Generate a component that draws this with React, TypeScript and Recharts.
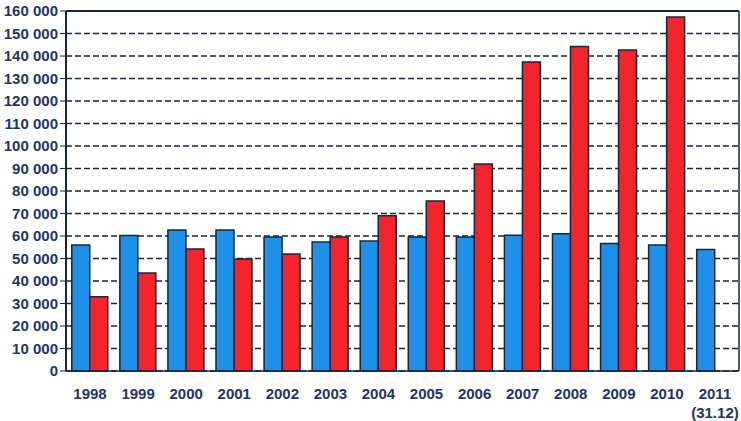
import React from "react";
import { BarChart, Bar, XAxis, YAxis, CartesianGrid, ReferenceLine } from "recharts";

const years = ["1998", "1999", "2000", "2001", "2002", "2003", "2004", "2005", "2006", "2007", "2008", "2009", "2010", "2011"];
const subLabels = ["", "", "", "", "", "", "", "", "", "", "", "", "", "(31.12)"];
const blueValues = [56000, 60200, 62700, 62700, 59600, 57300, 57800, 59600, 59600, 60300, 61000, 56700, 56000, 54000];
const redValues: (number | null)[] = [33000, 43600, 54200, 49800, 52000, 59600, 69000, 75600, 92000, 137300, 144200, 142700, 157300, null];
const yTicks = [0, 10000, 20000, 30000, 40000, 50000, 60000, 70000, 80000, 90000, 100000, 110000, 120000, 130000, 140000, 150000, 160000];

const data = years.map((y, i) => ({ year: y, sub: subLabels[i], blue: blueValues[i], red: redValues[i] }));

const TEXT = "#1f3566";
const FONT = "Liberation Sans, Arial, sans-serif";
const fmt = (v: number) => (v === 0 ? "0" : String(v).replace(/\B(?=(\d{3})+(?!\d))/g, " "));

const XTick = (props: any) => {
  const { x, y, payload, index } = props;
  const sub = subLabels[index] || "";
  return (
    <g>
      <text x={x} y={y + 20} textAnchor="middle" fill={TEXT} fontSize={15} fontWeight="bold" fontFamily={FONT}>
        {payload.value}
      </text>
      {sub ? (
        <text x={x} y={y + 39} textAnchor="middle" fill={TEXT} fontSize={15} fontWeight="bold" fontFamily={FONT}>
          {sub}
        </text>
      ) : null}
    </g>
  );
};

export default function App() {
  return (
    <div style={{ position: "absolute", left: 0, top: 0, width: 741, height: 421, background: "#fff" }}>
      <BarChart
        width={741}
        height={421}
        data={data}
        margin={{ top: 11, right: 1, left: 0, bottom: 0 }}
        barCategoryGap="12%"
        barGap={0}
      >
        <CartesianGrid yAxisId="left" vertical={false} stroke="#1a2540" strokeDasharray="6 3" strokeWidth={1.5} />
        <XAxis
          dataKey="year"
          height={50}
          tick={<XTick />}
          tickLine={false}
          axisLine={{ stroke: "#1a2540", strokeWidth: 1.5 }}
          interval={0}
        />
        <YAxis
          yAxisId="left"
          width={66}
          domain={[0, 160000]}
          ticks={yTicks}
          interval={0}
          tickFormatter={fmt}
          tick={{ fill: TEXT, fontSize: 15, fontWeight: "bold", fontFamily: FONT }}
          tickSize={6}
          tickLine={{ stroke: "#1a2540" }}
          axisLine={{ stroke: "#1a2540", strokeWidth: 2 }}
        />
        <YAxis
          yAxisId="right"
          orientation="right"
          width={1}
          domain={[0, 160000]}
          tick={false}
          tickLine={false}
          axisLine={{ stroke: "#1a2540", strokeWidth: 1.5 }}
        />
        <ReferenceLine yAxisId="left" y={160000} stroke="#1a2540" strokeWidth={2} />
        <Bar yAxisId="left" dataKey="blue" fill="#1e90e8" stroke="#14283a" strokeWidth={1.5} isAnimationActive={false} />
        <Bar yAxisId="left" dataKey="red" fill="#f5232b" stroke="#14283a" strokeWidth={1.5} isAnimationActive={false} />
      </BarChart>
    </div>
  );
}
